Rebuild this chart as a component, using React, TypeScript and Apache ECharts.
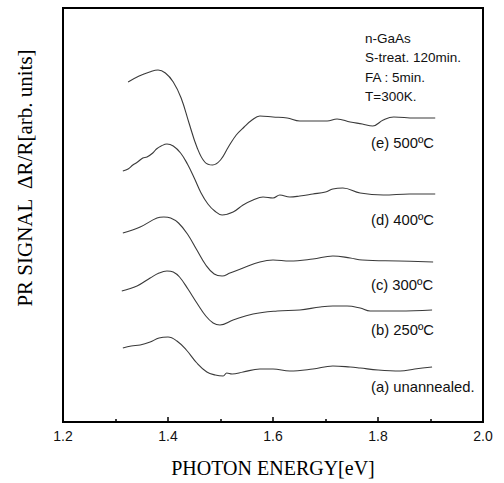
import React, { useEffect, useRef } from "react";
import * as echarts from "echarts";

// Photoreflectance spectra, [photon energy (eV), ΔR/R in arb. units incl. vertical offset]
const curveA: [number, number][] = [
  [1.314, 7.4], [1.33, 7.6], [1.347, 7.7], [1.366, 8.0], [1.383, 8.4], [1.4, 8.5],
  [1.417, 8.1], [1.435, 7.2], [1.455, 5.9], [1.474, 5.0], [1.49, 4.7], [1.505, 4.6],
  [1.512, 4.9], [1.522, 4.8], [1.543, 5.0], [1.575, 5.3], [1.6, 5.3], [1.632, 5.1],
  [1.676, 5.3], [1.714, 5.6], [1.747, 5.5], [1.766, 5.4], [1.8, 5.2], [1.842, 5.1],
  [1.87, 5.3], [1.903, 5.5],
];
const curveB: [number, number][] = [
  [1.312, 13.1], [1.341, 13.6], [1.366, 14.4], [1.383, 14.9], [1.398, 15.1], [1.41, 15.0],
  [1.422, 14.5], [1.438, 13.3], [1.455, 11.9], [1.472, 10.6], [1.486, 9.9], [1.499, 9.7],
  [1.524, 10.2], [1.562, 10.8], [1.608, 11.1], [1.651, 11.2], [1.69, 11.5], [1.714, 11.6],
  [1.741, 11.6], [1.766, 11.4], [1.785, 11.1], [1.84, 11.1], [1.903, 11.2],
];
const curveC: [number, number][] = [
  [1.314, 18.9], [1.347, 19.5], [1.379, 20.4], [1.392, 20.5], [1.405, 20.4], [1.42, 19.9],
  [1.437, 18.8], [1.455, 17.2], [1.472, 15.7], [1.488, 14.8], [1.503, 14.6], [1.518, 14.9],
  [1.543, 15.4], [1.575, 16.0], [1.6, 16.2], [1.632, 16.1], [1.676, 16.3], [1.714, 16.6],
  [1.747, 16.4], [1.77, 16.2], [1.84, 16.1], [1.905, 16.0],
];
const curveD: [number, number][] = [
  [1.314, 25.1], [1.324, 25.3], [1.333, 25.7], [1.342, 26.0], [1.352, 26.4], [1.36, 26.5],
  [1.371, 26.9], [1.378, 27.3], [1.387, 27.6], [1.398, 27.8], [1.41, 27.6], [1.424, 26.9],
  [1.437, 25.8], [1.45, 24.4], [1.463, 22.9], [1.476, 21.8], [1.489, 21.1], [1.503, 20.7],
  [1.524, 21.0], [1.543, 21.7], [1.562, 22.2], [1.581, 22.5], [1.6, 22.4], [1.613, 22.7],
  [1.632, 22.5], [1.651, 22.6], [1.676, 22.8], [1.7, 23.0], [1.714, 23.3], [1.733, 23.4],
  [1.766, 22.9], [1.81, 22.7], [1.86, 22.8], [1.909, 22.8],
];
const curveE: [number, number][] = [
  [1.324, 34.0], [1.345, 34.6], [1.365, 35.0], [1.381, 35.2], [1.395, 34.9], [1.41, 34.0],
  [1.425, 32.4], [1.44, 29.9], [1.455, 27.5], [1.47, 26.0], [1.485, 25.7], [1.5, 26.2],
  [1.515, 27.5], [1.53, 28.7], [1.545, 29.5], [1.56, 30.2], [1.575, 30.6], [1.6, 30.5],
  [1.627, 30.4], [1.651, 30.1], [1.676, 30.1], [1.703, 30.1], [1.722, 30.3], [1.747, 30.0],
  [1.77, 29.8], [1.79, 29.6], [1.81, 30.2], [1.83, 30.5], [1.87, 30.4], [1.909, 30.4],
];

const curves = [curveA, curveB, curveC, curveD, curveE];
const curveNames = ["(a) unannealed.", "(b) 250ºC", "(c) 300ºC", "(d) 400ºC", "(e) 500ºC"];
const curveLabelTops = [379, 322, 277, 212, 135];
const sampleInfo = ["n-GaAs", "S-treat. 120min.", "FA : 5min.", "T=300K."];

const xTicks = { min: 1.2, max: 2.0, step: 0.2 };
const yRange = { min: 0, max: 41.4 };

const SANS = "'Liberation Sans', Arial, sans-serif";
const SERIF = "'Liberation Serif', 'Times New Roman', serif";

export default function App() {
  const ref = useRef<HTMLDivElement>(null);

  useEffect(() => {
    if (!ref.current) return;
    const chart = echarts.init(ref.current, null, { renderer: "svg" });

    chart.setOption({
      animation: false,
      backgroundColor: "#fff",
      grid: {
        left: 63,
        right: 21,
        top: 8,
        bottom: 61,
        show: true,
        borderColor: "#000",
        borderWidth: 2,
        backgroundColor: "transparent",
      },
      xAxis: {
        type: "value",
        min: xTicks.min,
        max: xTicks.max,
        interval: xTicks.step,
        name: "PHOTON ENERGY[eV]",
        nameLocation: "middle",
        nameGap: 36,
        nameTextStyle: { fontFamily: SERIF, fontSize: 20, color: "#000" },
        axisLine: { show: true, lineStyle: { color: "#000", width: 2 } },
        axisTick: { show: true, inside: true, length: 5, lineStyle: { color: "#000", width: 1.5 } },
        minorTick: { show: true, splitNumber: 2, length: 3, lineStyle: { color: "#000", width: 1.5 } },
        splitLine: { show: false },
        minorSplitLine: { show: false },
        axisLabel: {
          margin: 7,
          fontFamily: SANS,
          fontSize: 14,
          color: "#111",
          formatter: (v: number) => v.toFixed(1),
        },
      },
      yAxis: {
        type: "value",
        min: yRange.min,
        max: yRange.max,
        axisLine: { show: true, lineStyle: { color: "#000", width: 2 } },
        axisTick: { show: false },
        axisLabel: { show: false },
        splitLine: { show: false },
      },
      series: curves.map((c, i) => ({
        name: curveNames[i],
        type: "line",
        data: c,
        smooth: 0.4,
        showSymbol: false,
        lineStyle: { color: "#3a3a3a", width: 1.1 },
      })),
      graphic: [
        {
          type: "text",
          x: 25,
          y: 178,
          rotation: Math.PI / 2,
          style: {
            text: "PR SIGNAL  ΔR/R[arb. units]",
            fontFamily: SERIF,
            fontSize: 21,
            fill: "#000",
            align: "center",
            verticalAlign: "middle",
          },
        },
        ...sampleInfo.map((t, i) => ({
          type: "text",
          x: 365,
          y: 31 + i * 19.5,
          style: { text: t, fontFamily: SANS, fontSize: 13.5, fill: "#111" },
        })),
        ...curveNames.map((t, i) => ({
          type: "text",
          x: 371,
          y: curveLabelTops[i],
          style: { text: t, fontFamily: SANS, fontSize: 14.8, fill: "#111" },
        })),
      ],
    });

    return () => chart.dispose();
  }, []);

  return (
    <div
      ref={ref}
      style={{ position: "fixed", left: 0, top: 0, width: 504, height: 483, background: "#fff" }}
    />
  );
}
